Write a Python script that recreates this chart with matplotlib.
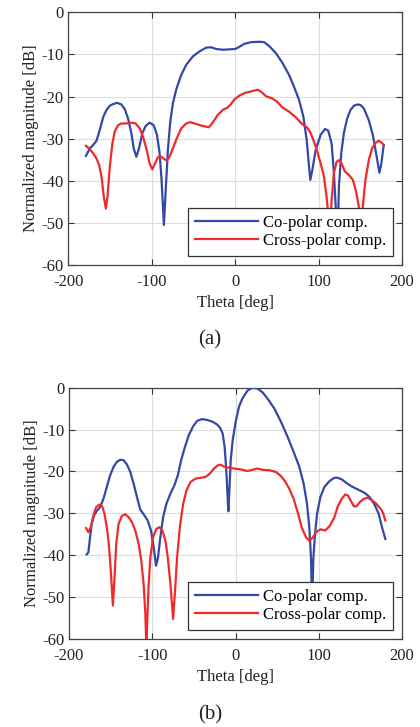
import matplotlib
matplotlib.use("Agg")
import matplotlib.pyplot as plt

plt.rcParams['font.family'] = ['Liberation Serif', 'DejaVu Serif']
plt.rcParams['font.size'] = 12
plt.rcParams['axes.unicode_minus'] = False

# ---- (a) data ----
theta_a_co = [-178.9, -174.1, -170.2, -166.2, -162.2, -158.2, -154.2, -150.3, -146.3, -141.5,
              -136.3, -132.3, -128.4, -124.4, -121.6, -118.4, -115.2, -111.2, -107.3, -102.5,
              -97.7, -93.7, -90.5, -88.2, -85.4, -83.0, -80.6, -77.8, -74.6, -70.7,
              -64.7, -58.7, -50.8, -42.8, -34.8, -28.9, -22.9, -14.9, -7.0, 0.2,
              5.0, 10.9, 18.9, 28.9, 34.8, 40.8, 48.8, 56.7, 64.7, 70.6,
              76.6, 81.8, 85.8, 88.6, 90.1, 92.5, 96.5, 102.5, 107.7, 111.6,
              115.6, 118.4, 121.2, 122.8, 124.4, 127.2, 130.3, 134.3, 138.3, 142.3,
              146.3, 150.2, 154.2, 160.2, 165.0, 169.0, 172.9, 175.3, 178.1]
mag_a_co = [-34.1, -32.3, -31.5, -30.5, -27.9, -24.9, -23.2, -22.2, -21.8, -21.5,
            -21.9, -23.0, -25.2, -28.7, -32.3, -34.3, -32.3, -28.7, -27.0, -26.2,
            -26.8, -29.1, -33.5, -39.8, -50.5, -41.4, -32.7, -26.0, -21.6, -18.4,
            -14.9, -12.5, -10.5, -9.3, -8.4, -8.3, -8.7, -8.9, -8.8, -8.7,
            -8.2, -7.5, -7.1, -7.0, -7.1, -8.0, -9.7, -12.0, -14.9, -17.7,
            -20.8, -24.8, -30.3, -36.7, -39.8, -37.5, -32.7, -29.1, -27.7, -28.1,
            -31.1, -38.2, -48.5, -55.0, -41.4, -33.5, -28.7, -25.2, -23.2, -22.2,
            -21.9, -22.0, -22.8, -25.6, -29.1, -33.5, -38.1, -35.9, -31.5]

theta_a_x = [-178.9, -174.1, -170.2, -166.2, -163.0, -160.2, -157.4, -155.0, -153.0, -150.3,
             -147.1, -144.3, -140.3, -136.3, -130.4, -124.4, -119.2, -114.4, -110.5, -106.5,
             -102.5, -99.3, -96.1, -92.5, -88.6, -84.6, -81.8, -78.6, -74.6, -69.9,
             -64.7, -58.7, -53.9, -46.8, -38.8, -31.6, -26.9, -20.9, -14.9, -9.0,
             -5.0, -1.0, 5.0, 10.9, 16.9, 22.9, 26.9, 30.8, 36.8, 44.8,
             50.7, 56.7, 64.7, 72.6, 80.6, 86.6, 90.5, 94.5, 98.5, 102.5,
             106.5, 109.6, 111.6, 113.6, 115.6, 118.4, 121.6, 124.4, 127.6, 131.5,
             136.3, 141.1, 145.1, 148.3, 150.6, 153.0, 156.2, 160.2, 164.2, 168.2,
             172.1, 176.1, 178.1]
mag_a_x = [-31.7, -32.5, -33.5, -34.7, -36.3, -39.0, -43.8, -46.6, -43.8, -36.7,
           -31.1, -28.3, -26.8, -26.4, -26.4, -26.2, -26.4, -27.6, -29.5, -32.3,
           -35.9, -37.3, -35.9, -34.4, -34.3, -34.9, -35.2, -34.3, -32.3, -29.9,
           -27.6, -26.4, -26.1, -26.5, -27.0, -27.3, -26.2, -24.4, -23.2, -22.6,
           -21.8, -20.7, -19.8, -19.2, -18.9, -18.6, -18.4, -18.8, -19.9, -20.5,
           -21.3, -22.6, -23.6, -24.9, -26.6, -27.4, -28.7, -30.7, -33.1, -35.9,
           -39.0, -43.8, -47.8, -53.0, -44.6, -38.2, -35.5, -35.1, -35.9, -37.8,
           -38.6, -39.8, -42.6, -46.2, -50.5, -46.2, -39.8, -35.1, -32.3, -31.0,
           -30.5, -31.0, -31.7]

# ---- (b) data ----
theta_b_co = [-178.7, -176.7, -174.7, -172.7, -169.9, -166.6, -162.6, -158.6, -154.6, -150.6,
              -146.5, -142.5, -138.5, -134.5, -130.5, -126.4, -122.4, -118.4, -114.4, -110.4,
              -105.5, -101.5, -98.3, -95.5, -93.1, -90.3, -87.0, -83.0, -78.2, -73.4,
              -69.3, -65.3, -61.3, -56.1, -50.9, -46.0, -40.0, -34.0, -27.9, -22.7,
              -18.7, -15.5, -13.1, -11.1, -9.9, -8.6, -7.4, -5.8, -3.4, 0.2,
              4.2, 8.2, 14.3, 20.3, 26.3, 32.4, 38.4, 46.4, 54.5, 62.5,
              70.5, 76.6, 81.8, 85.8, 88.6, 90.6, 91.9, 93.5, 95.5, 97.9,
              101.9, 106.7, 112.8, 118.8, 122.8, 127.6, 132.9, 138.9, 146.9, 155.0,
              161.0, 167.0, 171.9, 175.9, 179.9]
mag_b_co = [-39.8, -39.3, -35.7, -32.5, -30.5, -29.4, -28.5, -26.5, -23.7, -20.9,
            -18.9, -17.7, -17.2, -17.3, -18.3, -20.1, -22.9, -26.1, -29.1, -30.2,
            -31.7, -34.1, -38.1, -42.5, -40.5, -35.7, -30.9, -27.7, -25.3, -23.3,
            -20.9, -17.3, -14.5, -11.3, -9.2, -7.9, -7.5, -7.7, -8.1, -8.7,
            -9.5, -10.9, -14.1, -19.7, -24.5, -29.5, -24.5, -17.3, -12.5, -8.1,
            -4.5, -2.6, -0.7, 0.0, -0.2, -1.1, -2.6, -4.9, -8.1, -11.7,
            -15.7, -18.9, -22.9, -27.7, -33.3, -40.5, -52.0, -40.5, -34.9, -30.1,
            -26.1, -23.7, -22.3, -21.5, -21.5, -21.9, -22.7, -23.5, -24.3, -25.1,
            -26.1, -27.9, -30.1, -33.3, -36.1]

theta_b_x = [-179.5, -176.7, -173.9, -170.7, -167.4, -163.4, -160.2, -157.4, -154.6, -152.2,
             -149.8, -147.3, -145.3, -143.3, -140.5, -136.5, -132.5, -128.4, -124.4, -120.4,
             -116.4, -113.2, -110.4, -108.3, -107.1, -105.9, -104.3, -102.3, -99.1, -95.1,
             -91.1, -87.8, -84.2, -81.4, -78.2, -75.0, -72.6, -70.2, -66.9, -62.9,
             -58.9, -54.1, -48.0, -42.0, -36.0, -30.8, -25.9, -21.1, -17.9, -13.1,
             -7.8, -1.8, 6.2, 14.3, 20.3, 26.3, 32.4, 40.4, 48.4, 54.5,
             59.3, 64.5, 69.7, 74.6, 79.4, 84.6, 88.6, 92.7, 96.7, 101.9,
             107.5, 112.8, 118.8, 122.8, 127.6, 131.7, 134.9, 138.1, 142.1, 145.3,
             149.3, 154.2, 158.2, 163.0, 169.0, 174.3, 177.5, 179.9]
mag_b_x = [-33.5, -34.5, -33.3, -30.5, -28.5, -27.9, -28.3, -30.1, -33.3, -37.3,
           -43.7, -52.0, -45.3, -37.3, -32.5, -30.6, -30.2, -30.9, -32.1, -34.1,
           -37.3, -41.3, -46.8, -54.0, -62.0, -54.8, -46.8, -40.5, -35.7, -33.7,
           -33.3, -34.1, -36.5, -40.5, -46.8, -55.2, -48.4, -40.5, -33.3, -27.7,
           -24.5, -22.5, -21.7, -21.5, -21.3, -20.5, -19.3, -18.5, -18.4, -18.9,
           -19.1, -19.3, -19.5, -19.9, -19.6, -19.3, -19.6, -19.7, -20.1, -21.1,
           -22.3, -24.1, -26.5, -29.7, -33.3, -35.7, -36.6, -35.8, -34.5, -33.8,
           -34.1, -33.1, -30.9, -28.3, -26.5, -25.5, -25.7, -26.9, -28.3, -28.3,
           -27.3, -26.5, -26.3, -26.7, -27.7, -28.9, -30.1, -31.7]

x_ticks = [-200, -100, 0, 100, 200]
y_ticks = [0, -10, -20, -30, -40, -50, -60]
legend_labels = ['Co-polar comp.', 'Cross-polar comp.']
captions = ['(a)', '(b)']

BLUE = '#3448A6'
RED = '#F02A2A'

fig = plt.figure(figsize=(4.2, 7.27), dpi=100)
ax_a = fig.add_axes([0.1626, 0.6355, 0.7945, 0.3476])
ax_b = fig.add_axes([0.1643, 0.1210, 0.7930, 0.3457])

panels = [
    (ax_a, theta_a_co, mag_a_co, theta_a_x, mag_a_x),
    (ax_b, theta_b_co, mag_b_co, theta_b_x, mag_b_x),
]

for ax, tc, mc, tx, mx in panels:
    ax.plot(tc, mc, color=BLUE, lw=1.6, label=legend_labels[0], zorder=3)
    ax.plot(tx, mx, color=RED, lw=1.6, label=legend_labels[1], zorder=3)
    ax.set_xlim(-200, 200)
    ax.set_ylim(-60, 0)
    ax.set_xticks(x_ticks)
    ax.set_yticks(y_ticks)
    ax.grid(True, color='#dddddd', lw=0.8)
    ax.set_axisbelow(True)
    ax.tick_params(direction='in', top=True, right=True, length=4, width=0.8,
                   colors='#333333', labelcolor='#222222')
    ax.tick_params(axis='x', pad=6.5)
    ax.tick_params(axis='y', pad=3.5)
    for s in ax.spines.values():
        s.set_color('#444444')
        s.set_linewidth(0.9)
    ax.set_xlabel('Theta [deg]', labelpad=3.5, color='#222222')
    ax.set_ylabel('Normalized magnitude [dB]', labelpad=1.5, color='#222222')
    leg = ax.legend(loc='lower right', bbox_to_anchor=(0.974, 0.036), borderaxespad=0,
                    fancybox=False, framealpha=1, edgecolor='#333333',
                    handlelength=3.75, handletextpad=0.35, borderpad=0.4,
                    labelspacing=0.15, fontsize=12)
    leg.get_frame().set_linewidth(0.9)
    leg.set_zorder(5)

fig.text(0.5, 1 - 340 / 727, captions[0], ha='center', va='center', fontsize=15, color='#222222')
fig.text(0.5, 1 - 715 / 727, captions[1], ha='center', va='center', fontsize=15, color='#222222')

fig.savefig('out.png', dpi=100)
